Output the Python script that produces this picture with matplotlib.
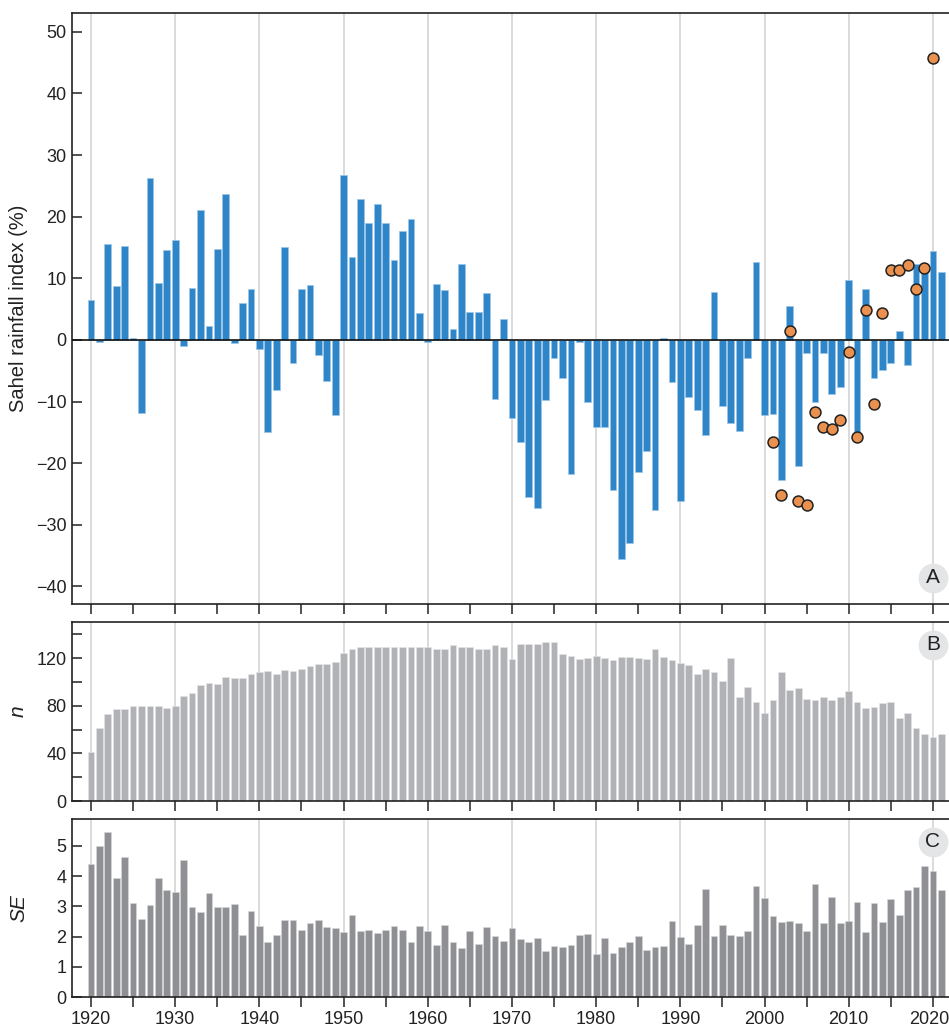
import numpy as np
import matplotlib
matplotlib.use("Agg")
import matplotlib.pyplot as plt
from matplotlib.transforms import ScaledTranslation

plt.rcParams['font.family'] = ['Liberation Sans', 'DejaVu Sans']
plt.rcParams['axes.unicode_minus'] = True

years = np.arange(1920, 2022)

rain_index = [
    6.5, -0.4, 15.6, 8.7, 15.2, 0.3, -11.9, 26.3, 9.2, 14.6,
    16.2, -1.0, 8.5, 21.1, 2.2, 14.7, 23.6, -0.5, 6.0, 8.3,
    -1.5, -14.9, -8.1, 15.1, -3.8, 8.2, 8.9, -2.4, -6.7, -12.2,
    26.8, 13.5, 22.9, 18.9, 22.1, 18.9, 12.9, 17.7, 19.6, 4.4,
    -0.3, 9.0, 8.1, 1.7, 12.3, 4.5, 4.5, 7.6, -9.6, 3.4,
    -12.6, -16.6, -25.5, -27.3, -9.8, -3.0, -6.1, -21.7, -0.4, -10.0,
    -14.1, -14.2, -24.3, -35.6, -32.9, -21.4, -18.1, -27.6, 0.3, -6.9,
    -26.2, -9.3, -11.4, -15.5, 7.8, -10.7, -13.4, -14.7, -2.9, 12.7,
    -12.2, -12.0, -22.8, 5.5, -20.5, -2.2, -10.0, -2.2, -8.7, -7.7,
    9.7, -15.4, 8.3, -6.2, -4.9, -3.8, 1.4, -4.1, 12.3, 12.2,
    14.4, 11.1,
]

dot_years = np.arange(2001, 2021)
dot_values = [
    -16.6, -25.2, 1.5, -26.2, -26.8, -11.7, -14.2, -14.5, -13.0, -1.9,
    -15.7, 4.8, -10.4, 4.3, 11.4, 11.4, 12.1, 8.2, 11.6, 45.8,
]

n_stations = [
    41, 61, 73, 77, 77, 80, 80, 80, 80, 78,
    80, 88, 91, 97, 99, 98, 104, 103, 103, 107,
    108, 109, 107, 110, 109, 111, 113, 115, 115, 117,
    124, 128, 129.5, 129.5, 129.5, 129.5, 129.5, 129.5, 129.5, 129,
    129, 128, 128, 131, 129.5, 129.5, 128, 128, 131, 129.5,
    119, 132, 132, 132, 133.5, 133.5, 123, 122, 119, 120,
    122, 120, 118, 121, 121, 120, 119, 128, 121, 118,
    116, 114, 107, 111, 108, 101, 120, 87, 96, 83,
    74, 85, 108, 93, 95, 86, 85, 87, 85, 87,
    92, 83, 78, 79, 82, 83, 70, 74, 61, 56,
    54, 56,
]

se_values = [
    4.38, 5.00, 5.45, 3.92, 4.62, 3.11, 2.58, 3.04, 3.93, 3.54,
    3.47, 4.52, 2.99, 2.82, 3.44, 2.98, 2.98, 3.08, 2.04, 2.85,
    2.34, 1.82, 2.07, 2.55, 2.55, 2.22, 2.44, 2.54, 2.32, 2.27,
    2.14, 2.71, 2.20, 2.21, 2.12, 2.22, 2.34, 2.21, 1.82, 2.36,
    2.18, 1.71, 2.37, 1.82, 1.62, 2.20, 1.76, 2.31, 2.03, 1.87,
    2.29, 1.92, 1.81, 1.96, 1.53, 1.69, 1.66, 1.73, 2.05, 2.09,
    1.43, 1.96, 1.46, 1.66, 1.82, 2.02, 1.56, 1.66, 1.68, 2.53,
    1.98, 1.75, 2.38, 3.57, 2.02, 2.37, 2.05, 2.02, 2.19, 3.67,
    3.29, 2.68, 2.47, 2.52, 2.45, 2.19, 3.75, 2.46, 3.31, 2.44,
    2.52, 3.13, 2.14, 3.11, 2.47, 3.25, 2.71, 3.54, 3.64, 4.33,
    4.18, 3.54,
]

decade_ticks = list(range(1920, 2021, 10))
five_ticks = list(range(1920, 2021, 5))

W, H = 949, 1029
fig = plt.figure(figsize=(W / 100, H / 100), dpi=100)

left = 72 / W
width = 1.0 - left + 0.002

def pos(top_px, bot_px):
    return [left, 1 - bot_px / H, width, (bot_px - top_px) / H]

axA = fig.add_axes(pos(12.7, 604.3))
axB = fig.add_axes(pos(622.3, 801.0))
axC = fig.add_axes(pos(819.3, 997.3))

TEXT = '#222222'
SPINE = '#222222'
GRID = '#d4d4d4'
FS = 13

for ax in (axA, axB, axC):
    ax.set_xlim(1917.74, 2022.14)
    for s in ('left', 'top', 'bottom'):
        ax.spines[s].set_color(SPINE)
        ax.spines[s].set_linewidth(1.2)
    ax.spines['right'].set_visible(False)
    for d in decade_ticks:
        ax.axvline(d, color=GRID, lw=1.2, zorder=0)
    ax.set_xticks(five_ticks)
    ax.tick_params(axis='x', direction='out', length=7, width=1.1, color=SPINE,
                   labelsize=FS, labelcolor=TEXT, pad=3)
    ax.tick_params(axis='y', direction='in', length=7, width=1.1, color=SPINE,
                   labelsize=FS, labelcolor=TEXT, pad=4)
    ax.tick_params(axis='y', which='minor', direction='in', length=7, width=1.1, color=SPINE)

# Panel A
axA.bar(years, rain_index, width=0.8, color='#2e86c8', edgecolor='#9cc6e8',
        linewidth=0.5, zorder=2)
axA.axhline(0, color='#111111', lw=1.2, zorder=3)
axA.scatter(dot_years, dot_values, s=62, color='#eb914f', edgecolor='#222222',
            linewidth=1.1, zorder=4)
axA.set_ylim(-42.9, 53.1)
axA.set_yticks(range(-40, 51, 10))
axA.set_xticklabels([])
axA.set_ylabel('Sahel rainfall index (%)', fontsize=14.5, color=TEXT)

# Panel B
axB.bar(years, n_stations, width=0.8, color='#b1b2b6', edgecolor='#e6e6e8',
        linewidth=0.4, zorder=2)
axB.set_ylim(0, 150)
axB.set_yticks([0, 40, 80, 120])
axB.set_yticks([20, 60, 100, 140], minor=True)
axB.set_xticklabels([])
axB.set_ylabel('n', fontsize=15, color=TEXT, style='italic')

# Panel C
axC.bar(years, se_values, width=0.8, color='#8f9094', edgecolor='#d8d8da',
        linewidth=0.4, zorder=2)
axC.set_ylim(0, 5.87)
axC.set_yticks([0, 1, 2, 3, 4, 5])
axC.set_xticklabels([str(y) if y % 10 == 0 else '' for y in five_ticks])
axC.set_ylabel('SE', fontsize=15, color=TEXT, style='italic')

# keep the last year label inside the figure
last_lab = axC.get_xticklabels()[-1]
last_lab.set_transform(last_lab.get_transform() +
                       ScaledTranslation(-4 / 100, 0, fig.dpi_scale_trans))

# Panel labels
for ax, lab, yv in ((axA, 'A', -38.6), (axB, 'B', 131.0), (axC, 'C', 5.13)):
    ax.plot([2020], [yv], 'o', ms=21.5, mfc='#e4e5e7', mec='none', zorder=5,
            clip_on=False)
    ax.text(2020, yv, lab, fontsize=15, color=TEXT, ha='center', va='center',
            zorder=6)

# align ylabels horizontally
for ax in (axA, axB, axC):
    ax.yaxis.set_label_coords(-0.050, 0.5)

fig.savefig('out.png', dpi=100)
